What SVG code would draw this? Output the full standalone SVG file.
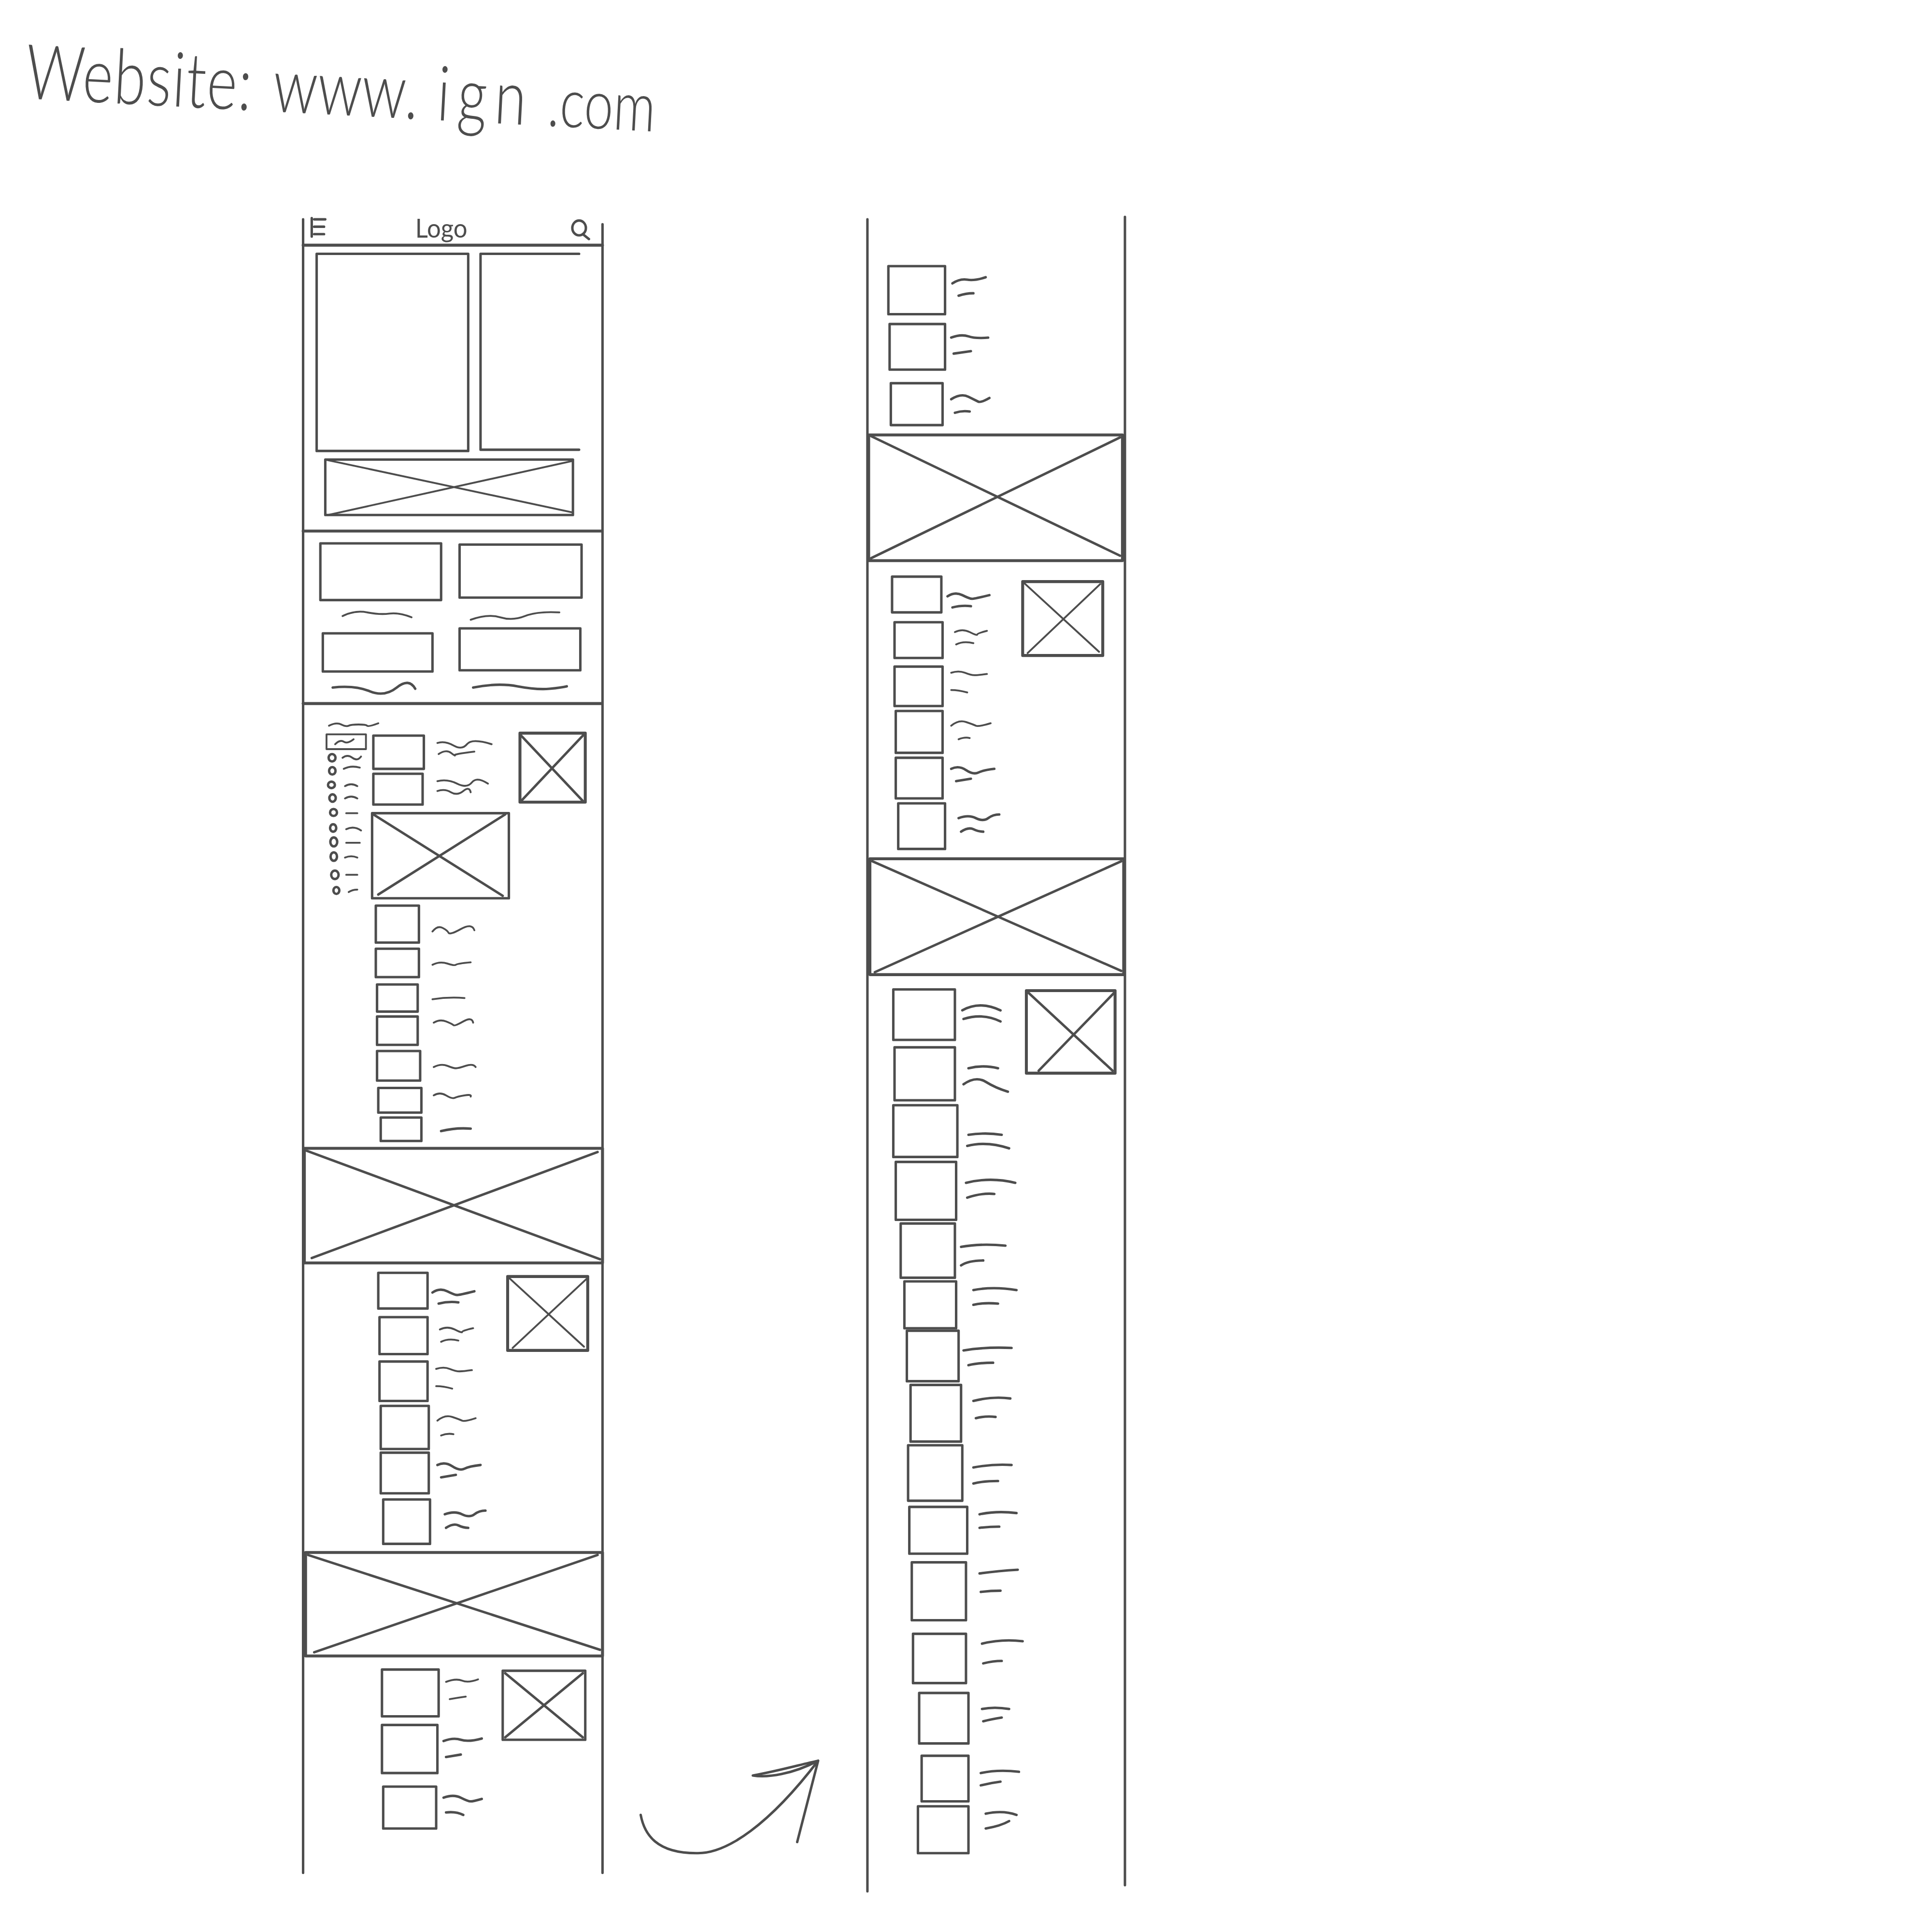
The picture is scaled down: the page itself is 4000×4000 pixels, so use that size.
<svg xmlns="http://www.w3.org/2000/svg" width="4000" height="4000" viewBox="0 0 4000 4000">
<style>
rect,path,ellipse{fill:none;stroke:#4d4d4d;stroke-width:2;stroke-linecap:round;stroke-linejoin:round}
.t{stroke-width:1.5}
.b{stroke-width:2.4}
text{font-family:Lato,"Liberation Sans",Arial,sans-serif;font-weight:300;fill:#4d4d4d}
</style>
<rect width="4000" height="4000" style="fill:#fff;stroke:none"/>
<g transform="scale(2.551)">
<g id="title"><text transform="translate(20,80) rotate(3) scale(.76,1)" font-size="62"><tspan x="0" letter-spacing="1">Website:</tspan><tspan x="249"> www.</tspan><tspan x="415" letter-spacing="8"> ign</tspan><tspan x="543" font-size="56"> .com</tspan></text></g>
<g id="frame-left">
<path d="M246 178V1520M489 182V1520"/>
<path class="b" d="M246 199H489M246 431H488"/><path class="b" d="M246 571H488"/>
</g>
<g id="header"><path d="M253 177V192M255 178H264M255 184H263M255 190H263"/>
<text transform="translate(337,193) scale(.95,1)" font-size="21" style="font-weight:400">Logo</text>
<ellipse cx="470" cy="185" rx="5.5" ry="6"/><path d="M473 190L478 194"/></g>
<g id="hero"><rect x="257" y="206" width="123" height="160"/><path d="M470 206H390V365H470"/>
<rect x="264" y="373" width="201" height="45"/><path class="t" d="M264 373L465 416M465 374L266 418"/></g>
<g id="cards">
<rect x="260" y="441" width="98" height="46"/><rect x="373" y="442" width="99" height="43"/>
<path class="t" d="M278 500q10-5 20-3t18 1 18 3M382 503q14-5 24-2t20-1 28-3"/>
<rect x="262" y="514" width="89" height="31"/><rect x="373" y="510" width="98" height="34"/>
<path d="M270 558q18-2 30 3t22-3 15 1M384 558q20-4 36-1t26 2 14-2"/>
</g>
<g id="menu">
<path class="t" d="M267 589q6-3 10-1t6 1 8-1 7 1 9-2"/>
<rect class="t" x="265" y="596" width="32" height="12"/><path class="t" d="M272 604q4-4 7-2t8-2"/>
<ellipse cx="269.5" cy="615" rx="2.8" ry="3"/><ellipse cx="269.7" cy="625.6" rx="2.6" ry="3"/><ellipse cx="269" cy="637" rx="2.8" ry="2.6"/><ellipse cx="269.9" cy="647.7" rx="2.6" ry="3"/><ellipse cx="270.7" cy="659.4" rx="2.8" ry="2.8"/><ellipse cx="270.4" cy="672" rx="2.5" ry="3"/><ellipse cx="270.9" cy="683.3" rx="2.8" ry="3.6"/><ellipse cx="270.9" cy="695.2" rx="2.6" ry="3.4"/><ellipse cx="271.8" cy="710" rx="3" ry="3.4"/><ellipse cx="273" cy="722.7" rx="2.4" ry="2.8"/>
<path class="t" d="M278 615q4-3 8 0t7-1M279 624q6-3 13-1M280 638q5-3 10 0M280 648q5-3 10 0M281 660H290M281 673q6-3 12 1M281 684H292M280 696q5-2 10 0M281 710H290M283 724q3-2 7-2"/>
</g>
<g id="news">
<rect x="303" y="597" width="41" height="27"/><rect x="303" y="628" width="40" height="25"/>
<path class="t" d="M355 603q6-2 13 2t11-1 20 0M356 612q6-4 10-1t3 2 16-3M355 634q8-2 16 2t12-1 13 1M355 642q6-2 11 1t10-1 6 1"/>
<rect class="b" x="422" y="595" width="53" height="56"/><path d="M422 596L473 650M474 596L423 650"/>
<rect x="302" y="660" width="111" height="69"/><path d="M303 661L408 727M410 661L307 726"/>
</g>
<g id="list-1">
<rect x="305" y="735" width="35" height="30"/><rect x="305" y="770" width="35" height="23"/><rect x="306" y="799" width="33" height="22"/><rect x="306" y="825" width="33" height="23"/><rect x="306" y="853" width="35" height="24"/><rect x="307" y="883" width="35" height="20"/><rect x="309" y="907" width="33" height="19"/>
<path class="t" d="M351 756q4-5 8-3t5 4 10-3 11 1M351 783q6-3 12-1t7 1 12-2M351 811q13-2 26-1M352 830q5-3 10-1t6 3 8-3 8 1M352 866q6-3 11-1t7 2 8-2 8 1M352 889q5-3 10 0t7 2 8-2 5 1"/>
<path d="M358 918q12-3 24-2"/>
</g>
<g id="banner-1"><rect class="b" x="247" y="932" width="242" height="93"/><path d="M249 934L487 1022M485 935L253 1021"/></g>
<g id="list-2">
<rect x="307" y="1033" width="40" height="29"/><rect x="308" y="1069" width="39" height="30"/><rect x="308" y="1105" width="39" height="32"/><rect x="309" y="1141" width="39" height="35"/><rect x="309" y="1179" width="39" height="33"/><rect x="311" y="1217" width="38" height="36"/>
<path d="M351 1049q6-4 12-1t8 3 14-3M356 1058q8-2 16-1"/>
<path class="t" d="M357 1079q6-3 12 0t6 2 9-3M358 1089q6-3 14-1M354 1111q6-2 11 0t8 2 10-1M354 1125q6 0 13 2M355 1153q6-5 12-3t8 3 11-2M358 1165q5-2 10-1"/>
<path d="M355 1189q6-3 12 1t10 2 13-3M358 1199q6-1 12-2M361 1229q8-3 14 0t10 0 9-3M362 1240q6-4 10-2t8 2"/>
<rect class="b" x="412" y="1036" width="65" height="60"/><path class="t" d="M413 1037L474 1093M476 1038L416 1094"/>
</g>
<g id="banner-2"><rect class="b" x="248" y="1260" width="241" height="84"/><path d="M250 1262L487 1339M485 1262L255 1341"/></g>
<g id="list-3">
<rect x="310" y="1355" width="46" height="38"/><rect x="310" y="1400" width="45" height="39"/><rect x="311" y="1450" width="43" height="34"/>
<path class="t" d="M362 1365q8-3 13-1t13-1M365 1379q6-1 13-2"/><path d="M360 1413q8-3 14-1t17-1M362 1426q6-1 12-2M360 1459q8-3 14 0t8 3 9-2M362 1471q8-1 14 2"/>
<rect x="408" y="1356" width="67" height="56"/><path d="M410 1358L473 1410M473 1358L410 1410"/>
</g>
<g id="connectors"><path d="M520 1473C523 1489 533 1504 565 1504C590 1505 625 1480 664 1429M664 1429C650 1432 633 1437 611 1441C623 1443 643 1440 664 1429L647 1495"/></g>
<g id="frame-right"><path d="M704 178V1535M913 176V1530"/></g>
<g id="list-4">
<rect x="721" y="216" width="46" height="39"/><rect x="722" y="263" width="45" height="37"/><rect x="723" y="311" width="42" height="34"/>
<path d="M773 230q6-4 12-3t15-2M778 240q6-2 12-2M772 274q8-3 14-1t16 1M774 287q7-1 14-2M772 324q8-5 14-2t8 4 9-3M775 335q6-2 12-1"/>
</g>
<g id="banner-3"><rect class="b" x="705" y="353" width="206" height="102"/><path d="M707 354L909 451M909 355L707 453"/></g>
<g id="list-5">
<rect x="724" y="468" width="40" height="29"/><rect x="726" y="505" width="39" height="29"/><rect x="726" y="541" width="39" height="32"/><rect x="727" y="577" width="38" height="34"/><rect x="727" y="615" width="38" height="33"/><rect x="729" y="652" width="38" height="37"/>
<path d="M769 484q6-4 12-1t8 3 14-3M773 493q8-2 15-1"/>
<path class="t" d="M775 513q6-3 12 0t6 2 8-3M776 523q6-3 14-1M772 546q6-2 11 0t8 2 10-1M772 560q6 0 13 2M772 589q6-5 12-3t8 3 12-2M778 600q5-2 9-1"/>
<path d="M772 624q6-3 12 1t10 2 13-3M776 634q6-1 12-2M778 664q8-3 14 0t10 0 9-3M780 675q6-4 10-2t8 2"/>
<rect class="b" x="830" y="472" width="65" height="60"/><path class="t" d="M831 473L892 529M893 474L834 530"/>
</g>
<g id="banner-4"><rect class="b" x="706" y="697" width="206" height="94"/><path d="M708 699L910 788M910 699L710 789"/></g>
<g id="list-6">
<rect x="725" y="803" width="50" height="41"/><rect x="726" y="850" width="49" height="43"/><rect x="725" y="897" width="52" height="42"/><rect x="727" y="943" width="49" height="47"/><rect x="731" y="993" width="44" height="44"/><rect x="734" y="1040" width="42" height="38"/><rect x="736" y="1080" width="42" height="41"/><rect x="739" y="1124" width="41" height="46"/><rect x="737" y="1173" width="44" height="45"/><rect x="738" y="1223" width="47" height="38"/><rect x="740" y="1268" width="44" height="47"/><rect x="741" y="1326" width="43" height="40"/><rect x="746" y="1374" width="40" height="41"/><rect x="748" y="1425" width="38" height="37"/><rect x="745" y="1466" width="41" height="38"/>
<path d="M781 820q14-8 31 0M782 827q16-5 30 2M786 867q12-3 24 0M782 880q10-7 18-2t18 8M786 921q14-2 27 0M785 930q16-4 34 2M784 960q20-5 40 0M785 972q12-4 22-3M780 1012q16-3 36-1M780 1027q6-4 18-4M790 1047q16-3 35 0M790 1059q8-2 20-1M782 1096q18-3 39-2M786 1108q8-2 20-2M790 1137q16-4 30-2M792 1151q8-2 16-1M790 1191q16-3 31-2M790 1204q8-2 20-2M795 1229q14-3 30-1M795 1240q8-1 16-1M795 1277q14-2 31-3M796 1292q8-1 16-1M797 1334q16-4 33-2M798 1350q8-2 15-2M797 1387q10-2 22 0M798 1397q8-2 15-3M796 1439q14-3 31-1M796 1449q8-2 16-3M800 1472q14-3 25 1M800 1484q12-2 19-6"/>
<rect class="b" x="833" y="804" width="72" height="67"/><path d="M835 806L903 869M904 806L843 869"/>
</g>
</g>
</svg>
